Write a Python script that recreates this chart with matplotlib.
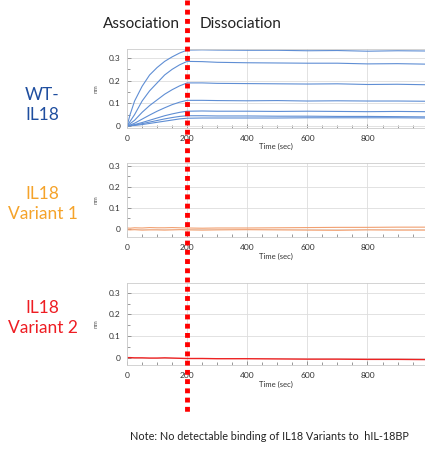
import matplotlib.pyplot as plt
from matplotlib.lines import Line2D
from matplotlib.ticker import MultipleLocator

# time points (sec)
t = [0, 10, 25, 50, 75, 100, 125, 150, 175, 200, 250, 300, 400, 500, 600, 700, 800, 900, 990]

# WT-IL18: one trace per analyte concentration (nm)
wt_curves = [
    [0, 0.05, 0.11, 0.175, 0.225, 0.258, 0.285, 0.305, 0.322, 0.335, 0.336, 0.335, 0.334, 0.334, 0.332, 0.333, 0.330, 0.332, 0.331],
    [0, 0.02, 0.05, 0.11, 0.155, 0.19, 0.225, 0.250, 0.270, 0.285, 0.284, 0.281, 0.279, 0.278, 0.277, 0.277, 0.274, 0.275, 0.273],
    [0, 0.01, 0.025, 0.06, 0.09, 0.115, 0.140, 0.160, 0.177, 0.190, 0.190, 0.188, 0.187, 0.186, 0.185, 0.186, 0.183, 0.184, 0.182],
    [0, 0.004, 0.012, 0.03, 0.048, 0.065, 0.080, 0.094, 0.105, 0.113, 0.113, 0.112, 0.111, 0.112, 0.110, 0.111, 0.110, 0.110, 0.109],
    [0, 0.002, 0.006, 0.015, 0.025, 0.035, 0.045, 0.053, 0.060, 0.065, 0.066, 0.065, 0.065, 0.064, 0.065, 0.064, 0.063, 0.064, 0.063],
    [0, 0.001, 0.004, 0.010, 0.017, 0.024, 0.031, 0.037, 0.042, 0.045, 0.045, 0.044, 0.044, 0.043, 0.043, 0.042, 0.042, 0.041, 0.040],
    [0, 0.001, 0.002, 0.006, 0.011, 0.016, 0.021, 0.026, 0.031, 0.034, 0.035, 0.035, 0.035, 0.035, 0.036, 0.036, 0.036, 0.036, 0.035],
]

# IL18 Variant 1: flat traces around zero
v1_curves = [
    [0.005, 0.004, 0.006, 0.005, 0.007, 0.006, 0.006, 0.007, 0.006, 0.005, 0.004, 0.005, 0.005, 0.006, 0.007, 0.008, 0.008, 0.009, 0.009],
    [-0.003, -0.004, -0.003, -0.005, -0.004, -0.004, -0.005, -0.004, -0.003, -0.004, -0.005, -0.004, -0.003, -0.004, -0.005, -0.006, -0.004, -0.005, -0.005],
]

# IL18 Variant 2: single trace drifting slightly negative
v2_curve = [0.002, 0.002, 0.001, 0.001, 0.0, 0.0, 0.001, 0.0, -0.001, -0.002, -0.002, -0.003, -0.003, -0.004, -0.005, -0.005, -0.006, -0.006, -0.007]

panel_names = ["WT-\nIL18", "IL18\nVariant 1", "IL18\nVariant 2"]
panel_colors = ["#1F4E9F", "#F5A32A", "#EE1D23"]

fig = plt.figure(figsize=(4.25, 4.49), dpi=100)
plt.rcParams['font.family'] = ['Lato', 'DejaVu Sans']

# [left, bottom, width, height] and y-limits for each panel
boxes = [[0.299, 0.715, 0.700, 0.176], [0.299, 0.472, 0.700, 0.165], [0.299, 0.187, 0.700, 0.183]]
ylims = [(-0.009, 0.34), (-0.038, 0.313), (-0.032, 0.345)]

axes = []
for i, box in enumerate(boxes):
    ax = fig.add_axes(box)
    ax.set_xlim(0, 990)
    ax.set_ylim(*ylims[i])
    ax.set_yticks([0, 0.1, 0.2, 0.3])
    ax.set_yticklabels(["0", "0.1", "0.2", "0.3"])
    ax.set_xticks([0, 200, 400, 600, 800])
    ax.xaxis.set_minor_locator(MultipleLocator(50))
    ax.yaxis.set_minor_locator(MultipleLocator(0.05))
    ax.tick_params(which='both', direction='in', labelsize=6, colors='#888888',
                   labelcolor='#333333', length=3, width=0.6, pad=5)
    ax.tick_params(which='minor', length=2)
    ax.grid(True, color='#DDDDDD', linewidth=0.6)
    ax.set_axisbelow(True)
    for s in ax.spines.values():
        s.set_color('#CCCCCC')
        s.set_linewidth(0.6)
    ax.set_xlabel("Time (sec)", fontsize=5.5, color='#333333', labelpad=1)
    ax.set_ylabel("nm", fontsize=4.5, color='#555555', labelpad=7)
    axes.append(ax)

for c in wt_curves:
    axes[0].plot(t, c, color='#5F8ED4', linewidth=0.8)
for c in v1_curves:
    axes[1].plot(t, c, color='#F2A070', linewidth=0.8)
axes[2].plot(t, v2_curve, color='#EE2222', linewidth=1.0)

# sample labels at the left
label_y = [0.766, 0.546, 0.292]
for name, col, y in zip(panel_names, panel_colors, label_y):
    fig.text(0.1, y, name, color=col, fontsize=12.5, ha='center', va='center', linespacing=1.3)

# phase headers
fig.text(0.332, 0.946, "Association", fontsize=11, ha='center', va='center', color='#222222')
fig.text(0.566, 0.946, "Dissociation", fontsize=11, ha='center', va='center', color='#222222')

# red dotted line marking the switch at 200 s
x_disp = axes[0].transData.transform((200, 0))[0]
x_fig = fig.transFigure.inverted().transform((x_disp, 0))[0]
fig.add_artist(Line2D([x_fig, x_fig], [1.0, 0.075], transform=fig.transFigure,
                      color='#FF0000', linewidth=3.5, linestyle=(0, (1, 0.9)), zorder=10))

fig.text(0.635, 0.027, "Note: No detectable binding of IL18 Variants to  hIL-18BP",
         fontsize=7.8, ha='center', va='center', color='#222222')

fig.savefig("out.png", dpi=100)
